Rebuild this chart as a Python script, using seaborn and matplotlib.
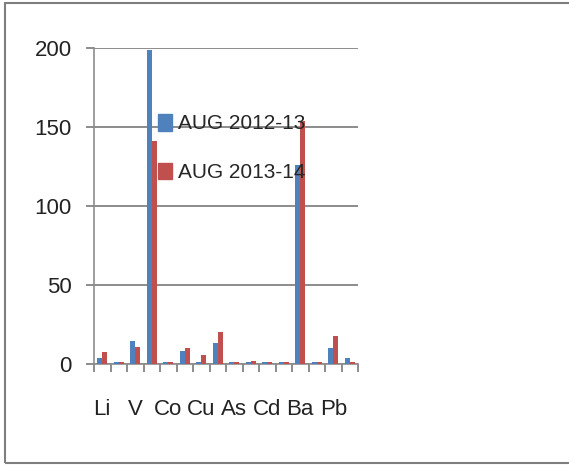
import matplotlib
matplotlib.use("Agg")
import matplotlib.pyplot as plt
import matplotlib.patches as mpatches
from matplotlib.font_manager import fontManager
import seaborn as sns
import pandas as pd
import numpy as np

elements = ["Li", "Be", "V", "Cr", "Co", "Ni", "Cu", "Zn",
            "As", "Se", "Cd", "Sb", "Ba", "Tl", "Pb", "U"]
aug_2012_13 = [3.5, 1.5, 14.5, 199, 1.5, 8, 1.5, 13, 1.5, 1.5, 1.5, 1.5, 126, 1.5, 10, 3.5]
aug_2013_14 = [7.5, 1.5, 11, 141, 1.5, 10, 6, 20, 1.5, 2, 1.5, 1.5, 154, 1.5, 17.5, 1.5]
series_names = ["AUG 2012-13", "AUG 2013-14"]
colors = ["#4F81BD", "#C0504D"]
y_ticks = [0, 50, 100, 150, 200]

sns.set_theme(style="white")
names = {f.name for f in fontManager.ttflist}
fam = "Liberation Sans Narrow" if "Liberation Sans Narrow" in names else "Liberation Sans"
plt.rcParams["font.family"] = [fam, "DejaVu Sans"]

df = pd.DataFrame({
    "element": elements * 2,
    "value": aug_2012_13 + aug_2013_14,
    "series": [series_names[0]] * len(elements) + [series_names[1]] * len(elements),
})

W, H = 569, 465
fig = plt.figure(figsize=(W / 100, H / 100), dpi=100)
fig.patch.set_facecolor("white")
ax = fig.add_axes([94 / W, 1 - 364 / H, (358 - 94) / W, (364 - 48) / H])

sns.barplot(data=df, x="element", y="value", hue="series", order=elements,
            hue_order=series_names, palette=colors, width=0.6, gap=0,
            saturation=1, ax=ax, legend=False, errorbar=None, linewidth=0)

ax.set_xlim(-0.5, len(elements) - 0.5)
ax.set_ylim(0, 200)
ax.set_yticks(y_ticks)
ax.yaxis.grid(True, color="#8c8c8c", linewidth=1.4)
ax.set_axisbelow(True)
ax.set_xlabel("")
ax.set_ylabel("")

for s in ["top", "right"]:
    ax.spines[s].set_visible(False)
for s in ["left", "bottom"]:
    ax.spines[s].set_color("#8c8c8c")
    ax.spines[s].set_linewidth(1.2)
    ax.spines[s].set_zorder(0.5)

ax.set_xticks(range(len(elements)))
ax.set_xticklabels([e if i % 2 == 0 else "" for i, e in enumerate(elements)],
                   fontsize=16, color="#222222")
ax.tick_params(axis="x", which="major", length=0, pad=25)
ax.set_xticks(np.arange(-0.5, len(elements)), minor=True)
ax.tick_params(axis="x", which="minor", length=6, width=1.4, color="#8c8c8c",
               direction="out", bottom=True)
ax.tick_params(axis="y", length=6, width=1.4, color="#8c8c8c", direction="out",
               left=True, labelsize=16, labelcolor="#222222", pad=10)

handles = [mpatches.Patch(color=c, label=n) for c, n in zip(colors, series_names)]
fig.legend(handles=handles, loc="center left", bbox_to_anchor=(158 / W, 1 - 148 / H),
           frameon=False, fontsize=15, handlelength=0.65, handleheight=0.85,
           handletextpad=0.3, labelspacing=1.4, borderpad=0, borderaxespad=0)

border = mpatches.Rectangle((5 / W, 2 / H), 1.0, 1 - 5 / H, transform=fig.transFigure,
                            fill=False, edgecolor="#7f7f7f", linewidth=1.5)
fig.patches.append(border)

fig.savefig("out.png", dpi=100)
